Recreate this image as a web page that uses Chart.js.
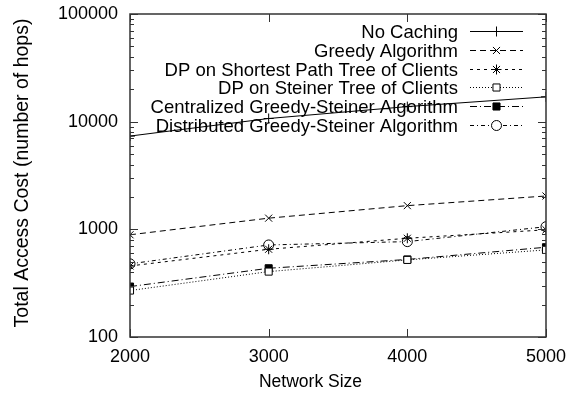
<!DOCTYPE html>
<html>
<head>
<meta charset="utf-8">
<script src="https://cdn.jsdelivr.net/npm/chart.js@4/dist/chart.umd.min.js"></script>
<style>
html,body{margin:0;padding:0;background:#fff;}
#wrap{position:relative;width:569px;height:399px;}
</style>
</head>
<body>
<div id="wrap"><canvas id="c" width="569" height="399"></canvas></div>
<script>
const networkSizes = [2000, 3000, 4000, 5000];
const yTickValues = [100, 1000, 10000, 100000];
const seriesLabels = [
  'No Caching',
  'Greedy Algorithm',
  'DP on Shortest Path Tree of Clients',
  'DP on Steiner Tree of Clients',
  'Centralized Greedy-Steiner Algorithm',
  'Distributed Greedy-Steiner Algorithm'
];
const noCaching   = [7350, 10700, 13800, 17000];
const greedy      = [890, 1270, 1660, 2040];
const dpSPT       = [457, 653, 826, 990];
const dpSteiner   = [270, 405, 520, 644];
const centralized = [294, 435, 525, 682];
const distributed = [478, 716, 769, 1058];
const xTitle = 'Network Size';
const yTitle = 'Total Access Cost (number of hops)';

const FONT = 'Liberation Sans, Arial, Helvetica, sans-serif';
const FS = 18;
const INK = '#333333';

const styles = [
  {dash: [], point: 'cross', fill: '#000'},
  {dash: [6, 4], point: 'crossRot', fill: '#000'},
  {dash: [3, 4], point: 'star', fill: '#000'},
  {dash: [1, 2], point: 'rect', fill: '#fff'},
  {dash: [7, 3, 1, 3], point: 'rect', fill: '#000'},
  {dash: [4, 3, 1, 3], point: 'circle', fill: '#fff'}
];
const values = [noCaching, greedy, dpSPT, dpSteiner, centralized, distributed];

const datasets = values.map((v, i) => ({
  label: seriesLabels[i],
  data: networkSizes.map((x, j) => ({x: x, y: v[j]})),
  borderColor: '#000',
  borderWidth: 1,
  borderDash: styles[i].dash,
  pointStyle: styles[i].point,
  pointRadius: 5,
  pointBorderColor: '#000',
  pointBorderWidth: 1,
  pointBackgroundColor: styles[i].fill,
  fill: false,
  tension: 0
}));

function drawFrame(chart) {
  const ctx = chart.ctx;
  const a = chart.chartArea;
  const xs = chart.scales.x, ys = chart.scales.y;
  const L = Math.round(a.left), T = Math.round(a.top), R = Math.round(a.right), B = Math.round(a.bottom);
  ctx.save();
  ctx.strokeStyle = INK;
  ctx.lineWidth = 1.5;
  ctx.setLineDash([]);
  ctx.beginPath();
  ctx.rect(L, T, R - L, B - T);
  ctx.stroke();
  ctx.lineWidth = 1;
  networkSizes.forEach(v => {
    const px = Math.round(xs.getPixelForValue(v)) + 0.5;
    ctx.beginPath();
    ctx.moveTo(px, B); ctx.lineTo(px, B - 8);
    ctx.moveTo(px, T); ctx.lineTo(px, T + 8);
    ctx.stroke();
  });
  for (let e = 2; e <= 5; e++) {
    for (let m = 1; m <= 9; m++) {
      const v = m * Math.pow(10, e);
      if (v > 100000) break;
      const py = Math.round(ys.getPixelForValue(v)) + 0.5;
      const len = m === 1 ? 8 : 4;
      ctx.beginPath();
      ctx.moveTo(L, py); ctx.lineTo(L + len, py);
      ctx.moveTo(R, py); ctx.lineTo(R - len, py);
      ctx.stroke();
    }
  }
  ctx.restore();
}

function drawMarker(ctx, style, r, x, y, fill) {
  ctx.beginPath();
  if (style === 'cross' || style === 'star') {
    ctx.moveTo(x - r, y); ctx.lineTo(x + r, y);
    ctx.moveTo(x, y - r); ctx.lineTo(x, y + r);
  }
  if (style === 'crossRot' || style === 'star') {
    const d = r * 0.7071;
    ctx.moveTo(x - d, y - d); ctx.lineTo(x + d, y + d);
    ctx.moveTo(x - d, y + d); ctx.lineTo(x + d, y - d);
  }
  if (style === 'rect') {
    const d = r * 0.7071;
    ctx.rect(x - d, y - d, 2 * d, 2 * d);
    ctx.fillStyle = fill; ctx.fill();
  }
  if (style === 'circle') {
    ctx.arc(x, y, r, 0, Math.PI * 2);
    ctx.fillStyle = fill; ctx.fill();
  }
  ctx.stroke();
}

function drawTexts(chart) {
  const ctx = chart.ctx;
  const textRight = 458, sx0 = 470, sx1 = 523, y0 = 31, dy = 18.8;
  ctx.save();
  ctx.font = '18.5px ' + FONT;
  ctx.textAlign = 'right';
  ctx.textBaseline = 'middle';
  chart.data.datasets.forEach((ds, i) => {
    const y = Math.round(y0 + i * dy) + 0.5;
    ctx.fillStyle = '#000';
    ctx.fillText(ds.label, textRight, y + 1);
    ctx.strokeStyle = '#000';
    ctx.lineWidth = 1;
    ctx.setLineDash(ds.borderDash);
    ctx.beginPath();
    ctx.moveTo(sx0, y);
    ctx.lineTo(sx1, y);
    ctx.stroke();
    ctx.setLineDash([]);
    drawMarker(ctx, ds.pointStyle, 5, (sx0 + sx1) / 2, y, ds.pointBackgroundColor);
  });
  ctx.fillStyle = '#000';
  ctx.textAlign = 'center';
  ctx.textBaseline = 'middle';
  ctx.font = '17.5px ' + FONT;
  ctx.fillText(xTitle, 310.5, 382);
  ctx.translate(23, 173);
  ctx.rotate(-Math.PI / 2);
  ctx.font = '19.5px ' + FONT;
  ctx.fillText(yTitle, 0, 0);
  ctx.restore();
}

const framePlugin = {
  id: 'frameplug',
  afterDraw(chart) {
    drawFrame(chart);
    drawTexts(chart);
  }
};

new Chart(document.getElementById('c'), {
  type: 'line',
  data: {datasets: datasets},
  plugins: [framePlugin],
  options: {
    responsive: false,
    animation: false,
    devicePixelRatio: 1,
    layout: {padding: {left: 11, right: 23, top: 14, bottom: 6}},
    plugins: {legend: {display: false}, tooltip: {enabled: false}},
    scales: {
      x: {
        type: 'linear',
        min: 2000, max: 5000,
        afterBuildTicks(s) { s.ticks = networkSizes.map(v => ({value: v})); },
        afterFit(s) { s.height = 56; s.paddingLeft = 0; s.paddingRight = 0; },
        grid: {display: false, drawTicks: false},
        border: {display: false},
        ticks: {color: '#000', font: {family: FONT, size: FS}, padding: 9, maxRotation: 0,
          callback: v => String(v)},
        title: {display: false}
      },
      y: {
        type: 'logarithmic',
        min: 100, max: 100000,
        afterBuildTicks(s) { s.ticks = yTickValues.map(v => ({value: v})); },
        afterFit(s) { s.width = 119; s.paddingTop = 0; s.paddingBottom = 0; },
        grid: {display: false, drawTicks: false},
        border: {display: false},
        ticks: {color: '#000', font: {family: FONT, size: FS}, padding: 12,
          callback: v => String(v)},
        title: {display: false}
      }
    }
  }
});
</script>
</body>
</html>
